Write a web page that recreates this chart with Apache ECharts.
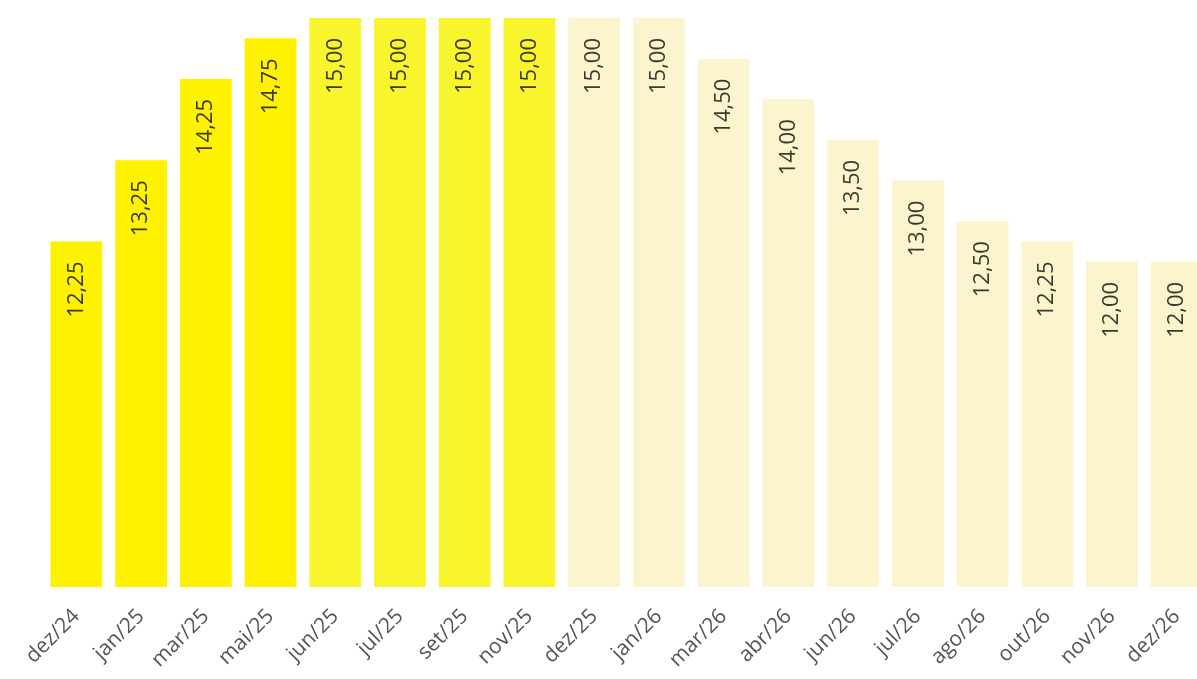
<!DOCTYPE html>
<html>
<head>
<meta charset="utf-8">
<script src="https://cdn.jsdelivr.net/npm/echarts@6/dist/echarts.min.js"></script>
<style>
html,body{margin:0;padding:0;background:#fff;}
#chart{width:1197px;height:679px;}
</style>
</head>
<body>
<div id="chart"></div>
<script>
const categories = ['dez/24','jan/25','mar/25','mai/25','jun/25','jul/25','set/25','nov/25','dez/25','jan/26','mar/26','abr/26','jun/26','jul/26','ago/26','out/26','nov/26','dez/26'];
const values = [12.25,13.25,14.25,14.75,15.00,15.00,15.00,15.00,15.00,15.00,14.50,14.00,13.50,13.00,12.50,12.25,12.00,12.00];
const groups = ['a','a','a','a','b','b','b','b','c','c','c','c','c','c','c','c','c','c'];
const groupColors = {a:'#FEF200', b:'#F9F52C', c:'#FBF4CD'};

const chart = echarts.init(document.getElementById('chart'));
chart.setOption({
  animation:false,
  grid:{left:44, top:18, bottom:92, width:1165, containLabel:false, outerBoundsMode:'none'},
  xAxis:{
    type:'category', data:categories,
    axisLine:{show:false}, axisTick:{show:false},
    axisLabel:{rotate:45, interval:0, fontFamily:'Open Sans', fontSize:21, color:'#555', margin:26}
  },
  yAxis:{type:'value', min:8, max:15, show:false, splitLine:{show:false}},
  series:[{
    type:'bar', barWidth:'80%',
    data: values.map((v,i)=>({value:v, itemStyle:{color:groupColors[groups[i]]}})),
    label:{
      show:true, position:'insideTop', rotate:90, align:'right', verticalAlign:'middle',
      distance:20, fontFamily:'Open Sans', fontSize:22, color:'#3a3a30',
      formatter:p=>p.value.toFixed(2).replace('.',',')
    }
  }]
});
</script>
</body>
</html>
